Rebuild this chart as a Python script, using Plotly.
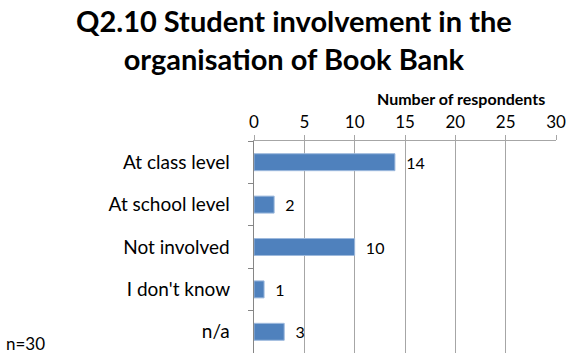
import plotly.graph_objects as go

categories = ["At class level", "At school level", "Not involved", "I don't know", "n/a"]
values = [14, 2, 10, 1, 3]
x_ticks = [0, 5, 10, 15, 20, 25, 30]

FONT = "Lato"
W, H = 567, 355
L, R, T, B = 254, 11, 141, 2
plot_w = W - L - R
plot_h = H - T - B


def px_x(x):
    return (x - L) / plot_w


def px_y(y):
    return (H - B - y) / plot_h


fig = go.Figure(
    go.Bar(
        x=values,
        y=categories,
        orientation="h",
        marker=dict(color="#4F81BD", line=dict(color="#9DB9DD", width=1)),
        text=["  " + str(v) for v in values],
        textposition="outside",
        constraintext="none",
        textfont=dict(family=FONT, size=16, color="#000000"),
        cliponaxis=False,
        width=0.4,
    )
)

fig.update_layout(
    width=W,
    height=H,
    margin=dict(l=L, r=R, t=T, b=B),
    paper_bgcolor="white",
    plot_bgcolor="white",
    showlegend=False,
    font=dict(family=FONT, color="#000000"),
    xaxis=dict(
        side="top",
        range=[0, 30],
        tickvals=x_ticks,
        ticktext=[str(t) for t in x_ticks],
        tickfont=dict(size=17),
        showgrid=True,
        gridcolor="#A6A6A6",
        gridwidth=1,
        zeroline=False,
        showline=True,
        linecolor="#A6A6A6",
        ticks="outside",
        ticklen=5,
        tickcolor="#A6A6A6",
    ),
    yaxis=dict(
        autorange="reversed",
        tickfont=dict(size=19),
        showline=True,
        linecolor="#868686",
        ticks="outside",
        tickson="boundaries",
        ticklen=5,
        tickcolor="#868686",
        showgrid=False,
        ticksuffix="    ",
    ),
    annotations=[
        dict(
            text="<b>Q2.10 Student involvement in the<br>organisation of Book Bank</b>",
            x=px_x(294), y=px_y(39), xref="paper", yref="paper",
            xanchor="center", yanchor="middle",
            showarrow=False, font=dict(size=29),
        ),
        dict(
            text="<b>Number of respondents</b>",
            x=px_x(461), y=px_y(98), xref="paper", yref="paper",
            xanchor="center", yanchor="middle",
            showarrow=False, font=dict(size=16),
        ),
        dict(
            text="n=30", x=px_x(4), y=px_y(343), xref="paper", yref="paper",
            xanchor="left", yanchor="middle",
            showarrow=False, font=dict(size=17),
        ),
    ],
)

fig.write_html("out.html")
